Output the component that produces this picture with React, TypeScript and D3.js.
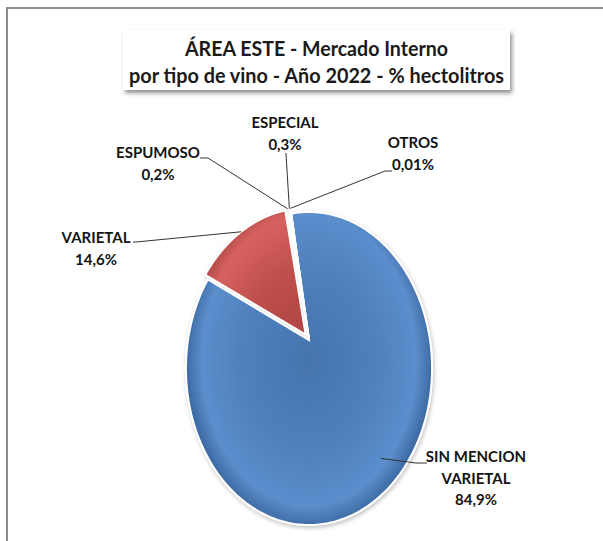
import React from "react";
import * as d3 from "d3";

const categories = ["SIN MENCION VARIETAL", "VARIETAL", "ESPUMOSO", "ESPECIAL", "OTROS"];
const values = [84.9, 14.6, 0.2, 0.3, 0.01];
const valueLabels = ["84,9%", "14,6%", "0,2%", "0,3%", "0,01%"];
const nameLines = [["SIN MENCION", "VARIETAL"], ["VARIETAL"], ["ESPUMOSO"], ["ESPECIAL"], ["OTROS"]];
const titleLines = ["ÁREA ESTE - Mercado Interno", "por tipo de vino - Año 2022 - % hectolitros"];

const W = 603, H = 541;
const CX = 309, CY = 340;
const BX = 121, AY = 151.3, T = 0.182;
const START = (-10 * Math.PI) / 180;
const EXPLODE = [0, 0.045, 0, 0, 0];

const fills = [
  { id: "gBlue", stops: ["#4574ae", "#4f81bd", "#5b8ecc", "#3a669f"] },
  { id: "gRed", stops: ["#a9413e", "#bf4f4c", "#d6625f", "#a7423f"] },
  { id: "gGreen", stops: ["#86a346", "#9bbb59", "#a9c866", "#7f9a40"] },
  { id: "gPurple", stops: ["#6b5388", "#8064a2", "#8f74b0", "#5f4a7a"] },
  { id: "gCyan", stops: ["#3996ad", "#4bacc6", "#5abbd3", "#33879c"] },
];

// label layout: text centre x, first baseline y, leader stub points near the text, anchor radius
const labelLayout = [
  { x: 476, y: 462, stub: [[427, 463], [416, 463]], r: 0.86 },
  { x: 96, y: 243, stub: [[133, 242], [136, 242]], r: 1.0 },
  { x: 158, y: 158, stub: [[200, 158], [208, 158]], r: 1.05 },
  { x: 285, y: 128, stub: [[286, 153], [286, 154]], r: 1.05 },
  { x: 413, y: 148, stub: [[392, 171], [385, 171]], r: 1.05 },
];

function proj(a: number, r: number, ex = 0, ey = 0): [number, number] {
  const u = r * Math.sin(a) + ex;
  const v = -r * Math.cos(a) + ey;
  const d = 1 - T * v;
  return [CX + (BX * u) / d, CY + (AY * v) / d];
}

export default function App() {
  const pie = d3
    .pie<number>()
    .sort(null)
    .value((d) => d)
    .startAngle(START)
    .endAngle(START + 2 * Math.PI);
  const arcs = pie(values);
  const line = d3.line();
  const LH = 21.5;

  return (
    <svg
      width={W}
      height={H}
      style={{ position: "absolute", left: 0, top: 0, background: "#fff" }}
      fontFamily="Lato, 'Open Sans', sans-serif"
    >
      <defs>
        <filter id="tshadow" x="-10%" y="-20%" width="125%" height="160%">
          <feDropShadow dx="2" dy="3" stdDeviation="2" floodColor="#000" floodOpacity="0.45" />
        </filter>
        <filter id="pshadow" x="-20%" y="-20%" width="140%" height="140%">
          <feDropShadow dx="1" dy="2" stdDeviation="2" floodColor="#000" floodOpacity="0.25" />
        </filter>
        {fills.map((f) => (
          <radialGradient
            key={f.id}
            id={f.id}
            gradientUnits="userSpaceOnUse"
            cx={0}
            cy={0}
            r={1}
            gradientTransform={`translate(${CX},${CY + 20}) scale(${BX * 1.03},${AY * 1.12})`}
          >
            <stop offset="0" stopColor={f.stops[0]} />
            <stop offset="0.55" stopColor={f.stops[1]} />
            <stop offset="0.86" stopColor={f.stops[2]} />
            <stop offset="1" stopColor={f.stops[3]} />
          </radialGradient>
        ))}
      </defs>

      <rect x={7} y={8} width={700} height={700} fill="#fff" stroke="#8c8c8c" strokeWidth={2} />

      <rect x={123} y={30} width={387} height={60} fill="#fff" filter="url(#tshadow)" />
      {titleLines.map((t, i) => (
        <text
          key={i}
          x={316.5}
          y={56 + i * 27}
          textAnchor="middle"
          fontSize={20}
          fontWeight={700}
          fill="#1a1a1a"
          textLength={i === 0 ? 263 : 375}
          lengthAdjust="spacingAndGlyphs"
        >
          {t}
        </text>
      ))}

      <g filter="url(#pshadow)">
        {arcs.map((a, i) => {
          const mid = (a.startAngle + a.endAngle) / 2;
          const ex = EXPLODE[i] * Math.sin(mid);
          const ey = -EXPLODE[i] * Math.cos(mid);
          const n = Math.max(2, Math.ceil(((a.endAngle - a.startAngle) / (2 * Math.PI)) * 240));
          const pts: [number, number][] = [proj(0, 0, ex, ey)];
          for (let k = 0; k <= n; k++) {
            const ang = a.startAngle + ((a.endAngle - a.startAngle) * k) / n;
            pts.push(proj(ang, 1, ex, ey));
          }
          return (
            <path
              key={categories[i]}
              d={line(pts) + "Z"}
              fill={`url(#${fills[i].id})`}
              stroke="#fff"
              strokeWidth={2}
              strokeLinejoin="miter"
            />
          );
        })}
      </g>

      {arcs.map((a, i) => {
        const L = labelLayout[i];
        const mid = (a.startAngle + a.endAngle) / 2;
        const ex = EXPLODE[i] * Math.sin(mid);
        const ey = -EXPLODE[i] * Math.cos(mid);
        const anchor = proj(mid, L.r, ex, ey);
        const pts: [number, number][] = [L.stub[0] as [number, number], L.stub[1] as [number, number], anchor];
        return <path key={"l" + i} d={line(pts) || ""} fill="none" stroke="#333" strokeWidth={1} />;
      })}

      {arcs.map((a, i) => {
        const L = labelLayout[i];
        const lines = [...nameLines[i], valueLabels[i]];
        return (
          <text key={"t" + i} textAnchor="middle" fontSize={15} fontWeight={700} fill="#141414">
            {lines.map((s, k) => (
              <tspan key={k} x={L.x} y={L.y + k * LH}>
                {s}
              </tspan>
            ))}
          </text>
        );
      })}
    </svg>
  );
}
